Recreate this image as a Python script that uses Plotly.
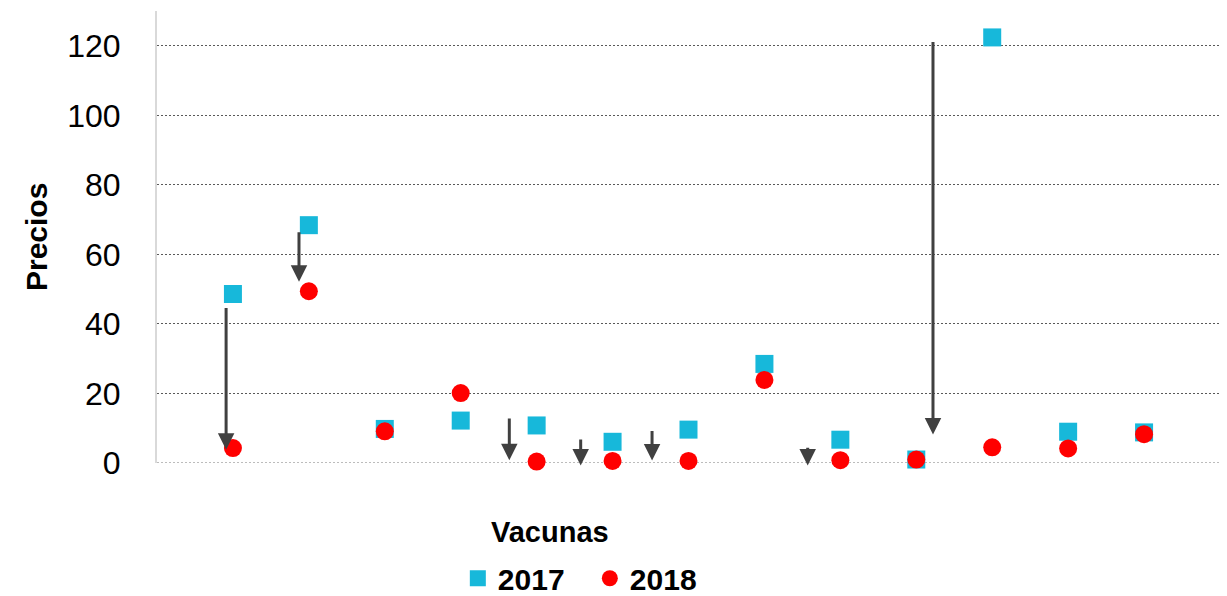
import plotly.graph_objects as go

# Vaccine index (categories are unlabelled in the source chart)
vacunas = list(range(1, 14))
precios_2017 = [48.6, 68.4, 9.8, 12.2, 10.8, 6.1, 9.6, 28.5, 6.7, 1.0, 122.4, 9.0, 8.8]
precios_2018 = [4.3, 49.4, 9.1, 20.1, 0.4, 0.6, 0.6, 23.9, 0.8, 1.0, 4.5, 4.2, 8.3]

# Downward arrows (annotation data): x position, start value, end value
arrow_x = [0.91, 1.87, 4.64, 5.58, 6.52, 8.57, 10.22]
arrow_from = [45.0, 66.8, 13.2, 7.2, 9.6, 4.8, 121.5]
arrow_to = [3.8, 52.1, 0.8, -0.7, 0.7, -0.7, 8.2]

y_ticks = [0, 20, 40, 60, 80, 100, 120]

FONT = "Liberation Sans, Arial, sans-serif"

fig = go.Figure()
fig.add_trace(go.Scatter(
    x=vacunas, y=precios_2017, mode="markers", name="2017",
    marker=dict(symbol="square", size=18, color="#17B8DA"),
    cliponaxis=False,
))
fig.add_trace(go.Scatter(
    x=vacunas, y=precios_2018, mode="markers", name="2018",
    marker=dict(symbol="circle", size=18, color="#FF0000"),
    cliponaxis=False,
))

annotations = []
for xa, y0, y1 in zip(arrow_x, arrow_from, arrow_to):
    annotations.append(dict(
        x=xa, y=y1, ax=xa, ay=y0, xref="x", yref="y", axref="x", ayref="y",
        text="", showarrow=True, arrowhead=2, arrowsize=1.1, arrowwidth=3,
        arrowcolor="#404040",
    ))

annotations.append(dict(
    text="<b>Vacunas</b>", xref="paper", yref="paper", x=0.37, y=-0.152,
    xanchor="center", yanchor="middle", showarrow=False,
    font=dict(family=FONT, size=29, color="#000000"),
))
annotations.append(dict(
    text="<b>Precios</b>", xref="paper", yref="paper", x=-0.1138, y=0.5,
    xanchor="center", yanchor="middle", showarrow=False, textangle=-90,
    font=dict(family=FONT, size=30, color="#000000"),
))

shapes = [dict(
    type="line", xref="paper", yref="y", x0=0, x1=1, y0=0, y1=0,
    line=dict(color="#A6A6A6", width=1.5, dash="2px,2px"), layer="below",
)]

# page body has an 8px margin, so the figure is sized/offset to compensate
fig.update_layout(
    width=1219, height=588,
    margin=dict(l=149, r=7, t=3, b=133, autoexpand=False),
    paper_bgcolor="white", plot_bgcolor="white",
    showlegend=True,
    legend=dict(
        orientation="h", x=0.283, y=-0.255, xanchor="left", yanchor="middle",
        entrywidth=87, entrywidthmode="pixels",
        font=dict(family=FONT, size=30, color="#000000", weight="bold"),
    ),
    annotations=annotations,
    shapes=shapes,
    xaxis=dict(
        range=[0, 14], showgrid=False, zeroline=False, showline=False,
        showticklabels=False, ticks="", automargin=False,
    ),
    yaxis=dict(
        range=[0, 130], tickvals=y_ticks, showgrid=True, gridcolor="#595959",
        griddash="2px,2px", gridwidth=1, zeroline=False,
        showline=True, linecolor="#D9D9D9", linewidth=2,
        ticks="", ticklabelstandoff=28, automargin=False,
        tickfont=dict(family=FONT, size=32, color="#000000"),
    ),
)

fig.write_html("out.html")
